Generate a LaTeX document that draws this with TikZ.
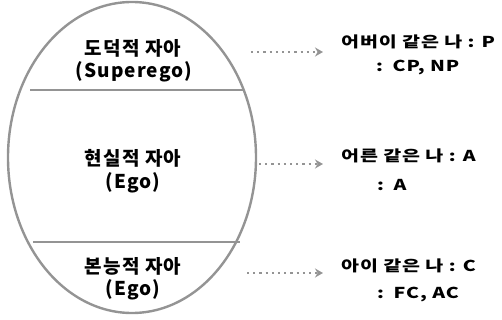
\documentclass[tikz,border=0pt]{standalone}
\usepackage{fontspec}
\newfontfamily\kr[LetterSpace=6]{Noto Sans CJK KR}
\newfontfamily\krw[LetterSpace=6,FakeStretch=1.3]{Noto Sans CJK KR}
\usetikzlibrary{arrows.meta,shapes.geometric}
\definecolor{edge}{gray}{0.58}
\tikzset{
  lbl/.style={font=\kr\bfseries\fontsize{19}{21}\selectfont, inner sep=0pt, text=black},
  rlbl/.style={font=\krw\bfseries\fontsize{15}{17}\selectfont, inner sep=0pt, anchor=west, text=black},
  conn/.style={draw=edge, line width=2.2pt, dash pattern=on 2.2pt off 4pt, -{Stealth[length=8pt,width=9pt,fill=edge]}},
  divider/.style={draw=edge, line width=1.8pt}
}
\begin{document}
\begin{tikzpicture}[x=1pt,y=-1pt]
\useasboundingbox (0,0) rectangle (502,320);
\node[draw=edge, line width=2.4pt, ellipse, minimum width=248pt, minimum height=311pt, inner sep=0pt] (ell) at (132,157.5) {};
\coordinate (d1l) at (30,90); \coordinate (d1r) at (244,90);
\coordinate (d2l) at (33,242); \coordinate (d2r) at (240,242);
\draw[divider] (d1l) -- (d1r);
\draw[divider] (d2l) -- (d2r);
\node[lbl] (t1) at (133,48) {도덕적 자아};
\node[lbl] (t1b) at (134,72) {(Superego)};
\node[lbl] (t2) at (133,158) {현실적 자아};
\node[lbl] (t2b) at (133,183) {(Ego)};
\node[lbl] (t3) at (133,266) {본능적 자아};
\node[lbl] (t3b) at (133,290) {(Ego)};
\node[rlbl] (r1) at (341,42) {어버이 같은 나 : P};
\node[rlbl] (r1b) at (376,68) {:\, CP, NP};
\node[rlbl] (r2) at (341,156) {어른 같은 나 : A};
\node[rlbl] (r2b) at (377,185) {:\, A};
\node[rlbl] (r3) at (341,266) {아이 같은 나 : C};
\node[rlbl] (r3b) at (377,295) {:\, FC, AC};
\coordinate (a1) at (251,52); \coordinate (a1e) at (323,52);
\coordinate (a2) at (259,164); \coordinate (a2e) at (323,164);
\coordinate (a3) at (247,273); \coordinate (a3e) at (323,273);
\draw[conn] (a1) -- (a1e);
\draw[conn] (a2) -- (a2e);
\draw[conn] (a3) -- (a3e);
\end{tikzpicture}
\end{document}
